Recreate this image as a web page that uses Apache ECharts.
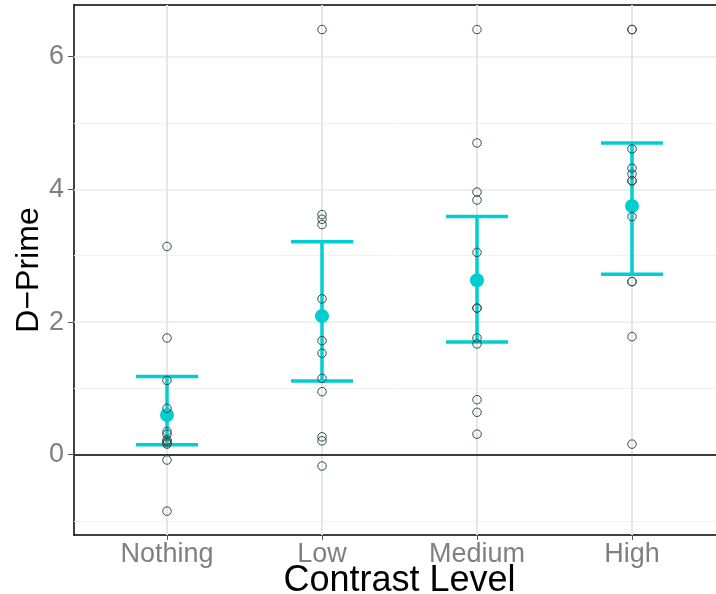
<html>
<head>
	<meta charset="utf-8">
	<title>D-Prime</title>
	<script src="https://cdn.jsdelivr.net/npm/echarts@6/dist/echarts.min.js"></script>
	<style type="text/css">
		html, body { margin: 0; padding: 0; background: #fff; }
	</style>
</head>
	<body>
		<div id="eCharts-container" style="width:716px;height:594px"></div>
	<script type="text/javascript">
		// categories on x axis
		var categories = ['Nothing', 'Low', 'Medium', 'High'];
		// individual d-prime values per contrast level
		var nothingVals = [3.14, 1.76, 1.12, 0.70, 0.35, 0.31, 0.22, 0.20, 0.18, 0.16, -0.08, -0.85];
		var lowVals = [6.41, 3.62, 3.55, 3.47, 2.35, 1.72, 1.53, 1.15, 0.95, 0.27, 0.21, -0.17];
		var mediumVals = [6.41, 4.70, 3.96, 3.84, 3.05, 2.21, 2.21, 1.76, 1.67, 0.83, 0.64, 0.31];
		var highVals = [6.41, 6.41, 4.61, 4.32, 4.23, 4.13, 4.13, 3.59, 2.61, 2.61, 1.78, 0.16];
		// mean and interval
		var means = [0.60, 2.09, 2.63, 3.75];
		var lower = [0.15, 1.11, 1.70, 2.72];
		var upper = [1.18, 3.21, 3.59, 4.70];
		// ticks
		var yTicks = [0, 2, 4, 6];
		var yMinor = [-1, 1, 3, 5];
		var xTicks = [1, 2, 3, 4];

		var cyan = '#00CED1';
		var font = 'Liberation Sans';

		var groups = [nothingVals, lowVals, mediumVals, highVals];
		var pointData = [];
		for (var g = 0; g < groups.length; g++) {
			for (var k = 0; k < groups[g].length; k++) {
				pointData.push([g + 1, groups[g][k]]);
			}
		}
		var meanData = [];
		var barData = [];
		for (var g = 0; g < means.length; g++) {
			meanData.push([g + 1, means[g]]);
			barData.push([g + 1, lower[g], upper[g]]);
		}

		// grid lines
		var gridLines = [];
		for (var i = 0; i < yMinor.length; i++) {
			gridLines.push({yAxis: yMinor[i], lineStyle: {color: '#f2f2f2', width: 1, type: 'solid'}});
		}
		for (var i = 0; i < yTicks.length; i++) {
			gridLines.push({yAxis: yTicks[i], lineStyle: {color: '#ebebeb', width: 1.5, type: 'solid'}});
		}
		for (var i = 0; i < xTicks.length; i++) {
			gridLines.push({xAxis: xTicks[i], lineStyle: {color: '#e6e6e6', width: 2, type: 'solid'}});
		}

		var myChart = echarts.init(document.getElementById('eCharts-container'));
		var option = {
			backgroundColor: '#ffffff',
			animation: false,
			grid: {left: 74, top: 5, right: -9, bottom: 59, outerBoundsMode: 'none', containLabel: false},
			xAxis: [{
				type: 'value',
				min: 0.4,
				max: 4.6,
				name: 'Contrast Level',
				nameLocation: 'middle',
				nameGap: 28,
				nameMoveOverlap: false,
				nameTextStyle: {fontFamily: font, fontSize: 36, color: '#000'},
				axisLine: {show: true, onZero: false, lineStyle: {color: '#000', width: 1.5}},
				axisTick: {show: true, customValues: xTicks, length: 5, lineStyle: {color: '#555'}},
				axisLabel: {
					customValues: xTicks,
					margin: 6,
					fontFamily: font, fontSize: 27, color: '#808080',
					formatter: function (v) { return categories[Math.round(v) - 1]; }
				},
				splitLine: {show: false}
			}, {
				type: 'value',
				position: 'top',
				min: 0.4,
				max: 4.6,
				axisLine: {show: true, onZero: false, lineStyle: {color: '#000', width: 1.5}},
				axisTick: {show: false},
				axisLabel: {show: false},
				splitLine: {show: false}
			}],
			yAxis: {
				type: 'value',
				min: -1.21,
				max: 6.78,
				name: 'D\u2212Prime',
				nameLocation: 'middle',
				nameGap: 29,
				nameMoveOverlap: false,
				nameTextStyle: {fontFamily: font, fontSize: 32, color: '#000'},
				axisLine: {show: true, onZero: false, lineStyle: {color: '#000', width: 1.5}},
				axisTick: {show: true, customValues: yTicks, length: 6, lineStyle: {color: '#555'}},
				axisLabel: {customValues: yTicks, margin: 10, fontFamily: font, fontSize: 27, color: '#808080'},
				splitLine: {show: false}
			},
			series: [{
				// background grid
				type: 'line',
				data: [],
				silent: true,
				z: 1,
				markLine: {
					silent: true,
					z: 1,
					symbol: 'none',
					label: {show: false},
					animation: false,
					data: gridLines
				}
			}, {
				// zero line
				type: 'line',
				data: [],
				silent: true,
				z: 2,
				markLine: {
					silent: true,
					z: 2,
					symbol: 'none',
					label: {show: false},
					animation: false,
					data: [{yAxis: 0, lineStyle: {color: '#000', width: 1.5, type: 'solid'}}]
				}
			}, {
				// error bars
				type: 'custom',
				z: 3,
				data: barData,
				renderItem: function (params, api) {
					var x = api.value(0);
					var lo = api.coord([x, api.value(1)]);
					var hi = api.coord([x, api.value(2)]);
					var l1 = api.coord([x - 0.2, api.value(1)]);
					var r1 = api.coord([x + 0.2, api.value(1)]);
					var l2 = api.coord([x - 0.2, api.value(2)]);
					var r2 = api.coord([x + 0.2, api.value(2)]);
					var style = {stroke: cyan, lineWidth: 3.5};
					return {
						type: 'group',
						children: [
							{type: 'line', shape: {x1: lo[0], y1: lo[1], x2: hi[0], y2: hi[1]}, style: style},
							{type: 'line', shape: {x1: l1[0], y1: l1[1], x2: r1[0], y2: r1[1]}, style: style},
							{type: 'line', shape: {x1: l2[0], y1: l2[1], x2: r2[0], y2: r2[1]}, style: style}
						]
					};
				}
			}, {
				// means
				type: 'scatter',
				z: 4,
				data: meanData,
				symbol: 'circle',
				symbolSize: 14,
				itemStyle: {color: cyan, opacity: 1}
			}, {
				// raw points
				type: 'scatter',
				z: 5,
				data: pointData,
				symbol: 'circle',
				symbolSize: 8.5,
				itemStyle: {color: 'rgba(0,0,0,0)', borderColor: '#2f4f4f', borderWidth: 1, opacity: 1}
			}]
		};
		myChart.setOption(option);
	</script>
	</body>
</html>
